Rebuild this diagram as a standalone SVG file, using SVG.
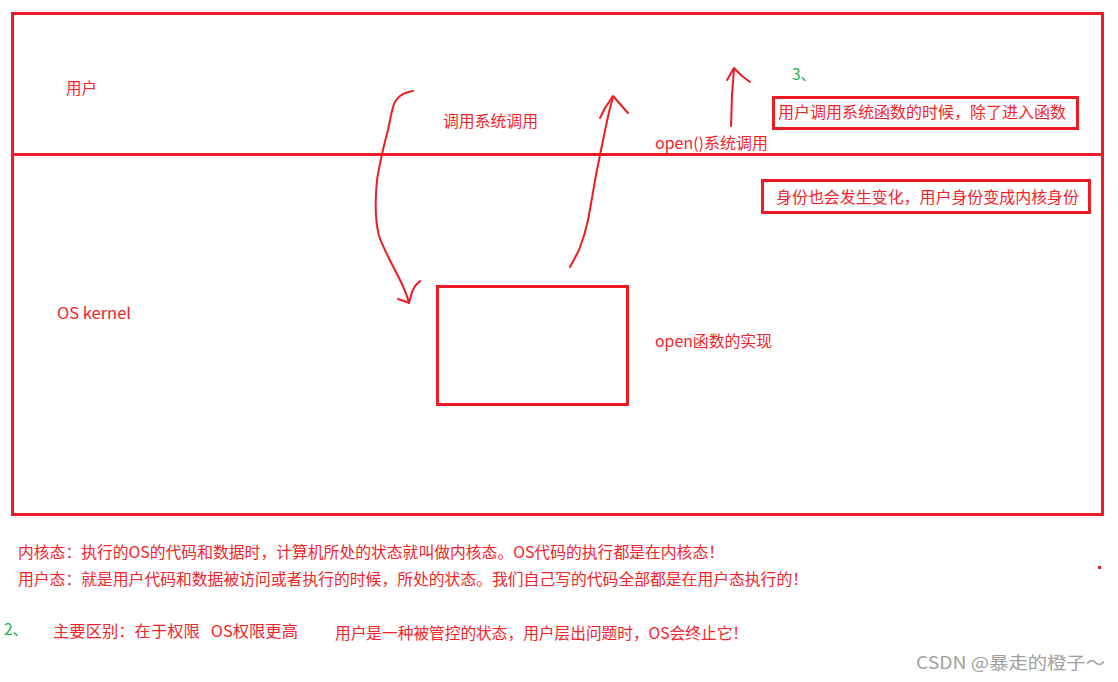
<svg xmlns="http://www.w3.org/2000/svg" width="1118" height="682" viewBox="0 0 1118 682">
<style>
.frame{fill:none;stroke:#ED1C24;stroke-width:3}
.ink{fill:none;stroke:#ED1C24;stroke-width:2;stroke-linecap:round;stroke-linejoin:round}
.t{font-family:"Microsoft YaHei","Noto Sans CJK SC","Noto Sans",sans-serif;font-size:15.5px;fill:#F5222A}
.g{fill:#22B14C}
.wm{font-family:"Noto Sans CJK SC","Noto Sans",sans-serif;font-size:17px;fill:#A0A0A0}
</style>
<rect width="1118" height="682" fill="#fff"/>
<g id="user-space">
<rect class="frame" x="12.5" y="13.5" width="1090" height="141"/>
<text class="t" x="66" y="94">用户</text>
</g>
<g id="os-kernel">
<rect class="frame" x="12.5" y="154.5" width="1090" height="360"/>
<text class="t" x="57" y="319" textLength="74" lengthAdjust="spacingAndGlyphs">OS kernel</text>
</g>
<g id="open-impl">
<rect class="frame" x="437.5" y="286.5" width="190" height="118"/>
<text class="t" x="655" y="347" textLength="117" lengthAdjust="spacingAndGlyphs">open函数的实现</text>
</g>
<g id="note-box-1">
<rect class="frame" x="773.5" y="97.5" width="304" height="31"/>
<text class="t" x="778" y="118" textLength="288" lengthAdjust="spacingAndGlyphs">用户调用系统函数的时候，除了进入函数</text>
</g>
<g id="note-box-2">
<rect class="frame" x="762.5" y="180.5" width="327" height="32"/>
<text class="t" x="776" y="203" textLength="303" lengthAdjust="spacingAndGlyphs">身份也会发生变化，用户身份变成内核身份</text>
</g>
<g id="connectors">
<path class="ink" d="M413,91 C402,93 396,97 393,107 C391,115 390,120 388,130 C384,145 380,160 377,180 C375,200 375,220 379,236 C384,250 392,264 400,280 C404,288 407,295 409,303"/>
<path class="ink" d="M398,299 L404,301 L409,303 L412,292 L415,286 L420,281"/>
<path class="ink" d="M570,267 C574,260 577,254 579,250 C583,240 586,230 588,220 C591,205 594,185 597,170 C600,155 605,130 609,112 L613,97"/>
<path class="ink" d="M600,118 L605,108 L613,96 L620,104 L628,113"/>
<path class="ink" d="M731,126 L732,95 L734,69"/>
<path class="ink" d="M727,80 L734,68 L742,76 L750,82"/>
</g>
<g id="labels">
<text class="t" x="443" y="127" textLength="95" lengthAdjust="spacingAndGlyphs">调用系统调用</text>
<text class="t" x="655" y="149" textLength="113" lengthAdjust="spacingAndGlyphs">open()系统调用</text>
<text class="t g" x="792" y="80">3、</text>
</g>
<g id="notes">
<text class="t" x="18" y="558" textLength="706" lengthAdjust="spacingAndGlyphs">内核态：执行的OS的代码和数据时，计算机所处的状态就叫做内核态。OS代码的执行都是在内核态！</text>
<text class="t" x="18" y="585" textLength="790" lengthAdjust="spacingAndGlyphs">用户态：就是用户代码和数据被访问或者执行的时候，所处的状态。我们自己写的代码全部都是在用户态执行的！</text>
<text class="t g" x="4" y="635">2、</text>
<text class="t" x="53" y="637" xml:space="preserve" style="white-space:pre" textLength="245" lengthAdjust="spacingAndGlyphs">主要区别：在于权限   OS权限更高</text>
<text class="t" x="335" y="639" textLength="413" lengthAdjust="spacingAndGlyphs">用户是一种被管控的状态，用户层出问题时，OS会终止它！</text>
<rect x="1098" y="566" width="3" height="3" fill="#ED1C24"/>
<text class="wm" x="916" y="669" textLength="189" lengthAdjust="spacingAndGlyphs">CSDN @暴走的橙子～</text>
</g>
</svg>
